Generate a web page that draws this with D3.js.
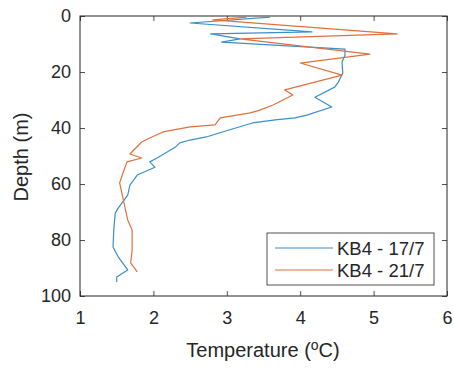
<!DOCTYPE html>
<html><head><meta charset="utf-8">
<script src="https://cdn.jsdelivr.net/npm/d3@7"></script>
<style>body{margin:0;background:#fff}svg{display:block}text{font-family:"Liberation Sans",Arial,sans-serif}</style>
</head><body><svg id="c" width="454" height="372"></svg>
<script>
const xTicks=[1,2,3,4,5,6];
const yTicks=[0,20,40,60,80,100];
const seriesNames=["KB4 - 17/7","KB4 - 21/7"];
const tempA=[3.59,2.50,4.16,2.78,3.18,2.93,4.61,4.61,4.57,4.58,4.52,4.47,4.20,4.43,4.09,3.93,3.66,3.35,3.03,2.72,2.50,2.36,2.29,2.05,1.95,2.02,1.78,1.68,1.65,1.52,1.48,1.46,1.45,1.52,1.65,1.50,1.50];
const depthA=[0.4,2.5,5.7,6.4,8.2,9.3,11.8,14,16.4,20.4,23.6,25.4,29,32.5,35.4,36.4,37.1,38.2,40.7,43.2,44.3,45.3,47,50.7,52.1,54,56.8,60.4,64,68.6,70.4,76.4,82.5,86,90.7,93.2,95];
const tempB=[3.27,2.81,5.32,3.18,4.95,4.00,4.57,3.79,3.90,3.63,3.45,3.32,2.91,2.84,2.50,2.13,1.95,1.84,1.68,1.84,1.64,1.59,1.54,1.59,1.65,1.71,1.71,1.69,1.78];
const depthB=[0.4,1.4,6.4,8.2,13.6,16.8,21.1,26.4,28.2,31.8,33.6,34.6,36.4,38.9,39.6,41.4,43.6,45,49.3,50.7,52.1,55.7,59.6,65.7,72.9,76.4,83.6,88.2,91.4];

const colors=["#3a8fc9","#e0703e"];
const svg=d3.select("#c");
const L=80,R=447,T=16,B=296;
const x=d3.scaleLinear().domain([1,6]).range([L,R]);
const y=d3.scaleLinear().domain([0,100]).range([T,B]);
const tk=5;
function style(g){g.select(".domain").remove();g.selectAll(".tick line").attr("stroke","#262626").attr("stroke-width",0.8);g.selectAll("text").attr("fill","#262626").attr("font-size",18);}
svg.append("g").attr("transform",`translate(0,${B})`).call(d3.axisBottom(x).tickValues(xTicks).tickSize(-tk).tickPadding(15).tickFormat(d3.format("d"))).call(style);
svg.append("g").attr("transform",`translate(0,${T})`).call(d3.axisTop(x).tickValues(xTicks).tickSize(-tk).tickFormat("")).call(style);
svg.append("g").attr("transform",`translate(${L},0)`).call(d3.axisLeft(y).tickValues(yTicks).tickSize(-tk).tickPadding(9).tickFormat(d3.format("d"))).call(style);
svg.append("g").attr("transform",`translate(${R},0)`).call(d3.axisRight(y).tickValues(yTicks).tickSize(-tk).tickFormat("")).call(style);
svg.append("rect").attr("x",L).attr("y",T).attr("width",R-L).attr("height",B-T).attr("fill","none").attr("stroke","#262626").attr("stroke-width",1);

const line=d3.line().x(d=>x(d[0])).y(d=>y(d[1]));
[[tempA,depthA],[tempB,depthB]].forEach((s,i)=>{
  svg.append("path").datum(s[0].map((t,j)=>[t,s[1][j]])).attr("d",line).attr("fill","none").attr("stroke",colors[i]).attr("stroke-width",1.2).attr("stroke-linejoin","round");
});

// legend
const lg=svg.append("g");
lg.append("rect").attr("x",267).attr("y",233).attr("width",167).attr("height",52).attr("fill","#fff").attr("stroke","#262626").attr("stroke-width",0.8);
seriesNames.forEach((n,i)=>{
  const yy=248+i*22;
  lg.append("line").attr("x1",275).attr("x2",333).attr("y1",yy).attr("y2",yy).attr("stroke",colors[i]).attr("stroke-width",1.2);
  lg.append("text").attr("x",337).attr("y",yy+6.5).attr("font-size",18.5).attr("fill","#262626").text(n);
});

// axis labels
const xl=svg.append("text").attr("x",263).attr("y",357).attr("text-anchor","middle").attr("font-size",20).attr("fill","#262626");
xl.append("tspan").text("Temperature (");
xl.append("tspan").attr("dy",-7).attr("font-size",14).text("o");
xl.append("tspan").attr("dy",7).text("C)");
svg.append("text").attr("transform","translate(28,157) rotate(-90)").attr("text-anchor","middle").attr("font-size",20).attr("fill","#262626").text("Depth (m)");
</script></body></html>
